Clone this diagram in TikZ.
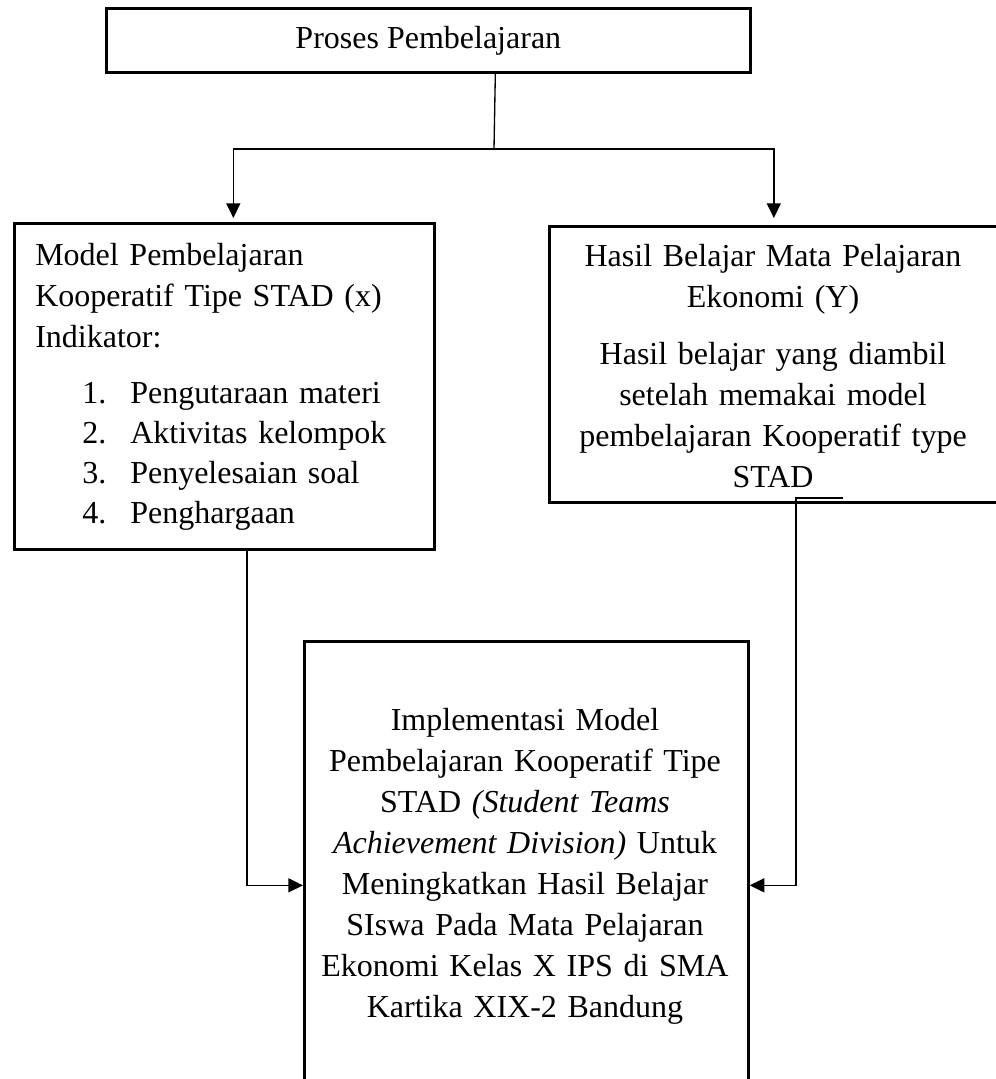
\documentclass[tikz,border=0pt]{standalone}
\usepackage{fontspec}
\setmainfont{Liberation Serif}
\usetikzlibrary{positioning,arrows.meta}
\newcommand{\bodyfont}{\fontsize{24}{30.75}\selectfont}
\tikzset{
  arrow/.style={-{Triangle[length=11pt,width=10.5pt]}, line width=1pt, draw=black},
  link/.style={line width=1pt, draw=black},
  block/.style={
    draw=black,
    line width=2pt,
    rectangle,
    inner sep=0pt,
    anchor=north west,
    font=\bodyfont
  },
  body/.style={font=\bodyfont, inner sep=0pt}
}
\begin{document}
\begin{tikzpicture}[x=0.75pt, y=-0.75pt]
\useasboundingbox (0,0) rectangle (996,1079);

% Boxes
\node[block, minimum width=483pt, minimum height=48pt] (proses) at (105,7) {Proses Pembelajaran};
\node[block, minimum width=315pt, minimum height=244.5pt] (model) at (13,222) {};
\node[block, minimum width=336.75pt, minimum height=207pt] (hasil) at (548,225) {};
\node[block, minimum width=333pt, minimum height=366pt] (impl) at (303,640) {};

% Texts
\node[body, anchor=base west, text width=292.5pt, align=left] (modeltext) at (35,265)
  {Model Pembelajaran\\ Kooperatif Tipe STAD (x)\\ Indikator:};
\node[body, anchor=base west, text width=265pt, align=left,
  font=\fontsize{24}{30}\selectfont] (modellist) at (82,403)
  {\makebox[36pt][l]{1.}Pengutaraan materi\\
   \makebox[36pt][l]{2.}Aktivitas kelompok\\
   \makebox[36pt][l]{3.}Penyelesaian soal\\
   \makebox[36pt][l]{4.}Penghargaan};
\node[body, anchor=base, text width=322.5pt, align=center] (hasiltext) at (773,266)
  {Hasil Belajar Mata Pelajaran\\ Ekonomi (Y)\\[12pt]
   Hasil belajar yang diambil\\ setelah memakai model\\
   pembelajaran Kooperatif type\\ STAD};
\node[body, anchor=base, text width=315pt, align=center] (impltext) at (525,730)
  {Implementasi Model\\ Pembelajaran Kooperatif Tipe\\
   STAD \textit{(Student Teams}\\ \textit{Achievement Division)} Untuk\\
   Meningkatkan Hasil Belajar\\ SIswa Pada Mata Pelajaran\\
   Ekonomi Kelas X IPS di SMA\\ Kartika XIX-2 Bandung};

% Connectors
\coordinate (fork) at (494,149);
\coordinate (lstub) at (190,550);
\coordinate (rstub) at (843,498);
\draw[link] ([xshift=50.25pt]proses.south) -- (fork);
\draw[arrow, shorten >=3pt] (fork) -| ([xshift=6.75pt]model.north);
\draw[arrow, shorten >=5.25pt] (fork) -| (hasil.north);
\draw[arrow] (lstub) -- ++(57,0) |- (impl.west);
\draw[arrow] (rstub) -- ++(-47,0) |- (impl.east);

\end{tikzpicture}
\end{document}
